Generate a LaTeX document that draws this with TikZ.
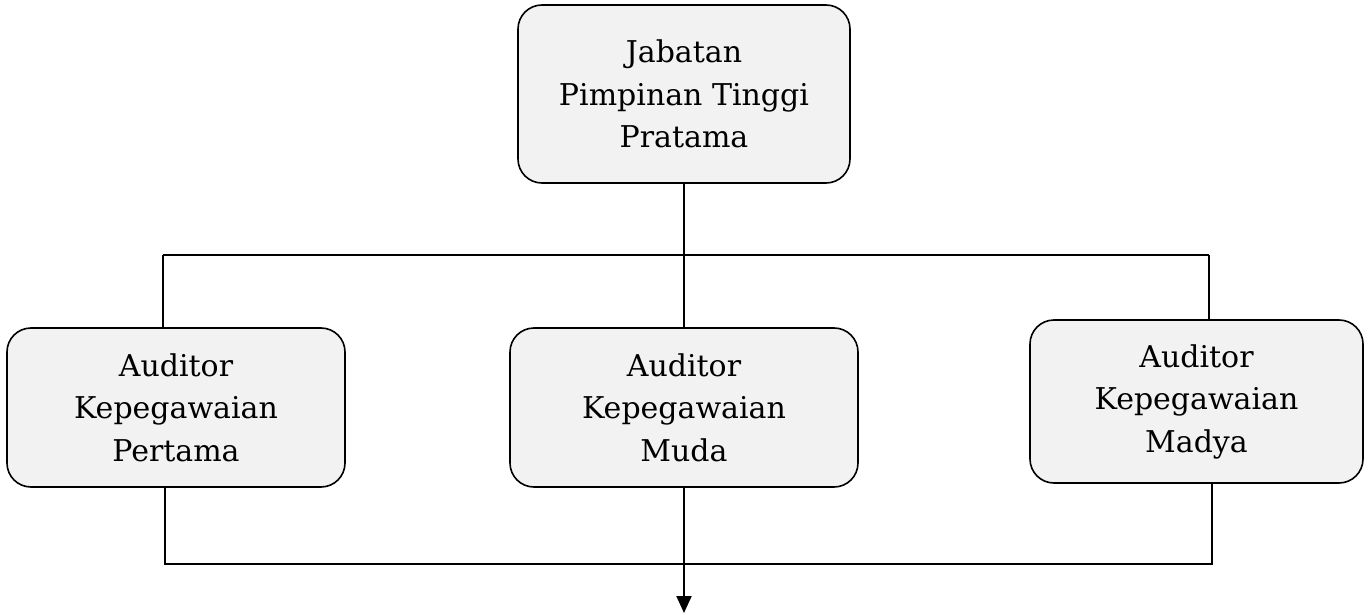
\documentclass[tikz,border=0pt]{standalone}
\usepackage{fontspec}
\setmainfont{DejaVu Serif}
\usetikzlibrary{arrows.meta}
\definecolor{boxfill}{gray}{0.95}
\tikzset{
  orgbox/.style={draw=black, line width=1.6pt, rounded corners=24pt, fill=boxfill,
    inner sep=0pt, align=center, font=\fontsize{30pt}{42.5pt}\selectfont},
  link/.style={draw=black, line width=2pt},
  downarrow/.style={link, -{Triangle[length=17pt,width=15pt]}}
}
\begin{document}
\begin{tikzpicture}[x=1pt,y=-1pt]
\useasboundingbox (0,0) rectangle (1371,615);
\node[orgbox, minimum width=332pt, minimum height=178pt] (top) at (684,94) {Jabatan\\Pimpinan Tinggi\\Pratama};
\node[orgbox, minimum width=338pt, minimum height=159pt] (left) at (176,407.5) {Auditor\\Kepegawaian\\Pertama};
\node[orgbox, minimum width=348pt, minimum height=159pt] (mid) at (684,407.5) {Auditor\\Kepegawaian\\Muda};
\node[orgbox, minimum width=333pt, minimum height=163pt] (right) at (1196.5,401.5) {Auditor\\Kepegawaian\\Madya};
\coordinate (jt) at (684,255);
\coordinate (jl) at (163,255);
\coordinate (jr) at (1209,255);
\coordinate (bl) at (165,564);
\coordinate (br) at (1212,564);
\coordinate (ae) at (684,613);
\draw[link] (top.south) -- (jt);
\draw[link] (jl) -- (jr);
\draw[link] (jl) -- (jl |- left.north);
\draw[link] (jt) -- (mid.north);
\draw[link] (jr) -- (jr |- right.north);
\draw[link] (bl |- left.south) -- (bl) -- (br) -- (br |- right.south);
\draw[downarrow] (mid.south) -- (ae);
\end{tikzpicture}
\end{document}
